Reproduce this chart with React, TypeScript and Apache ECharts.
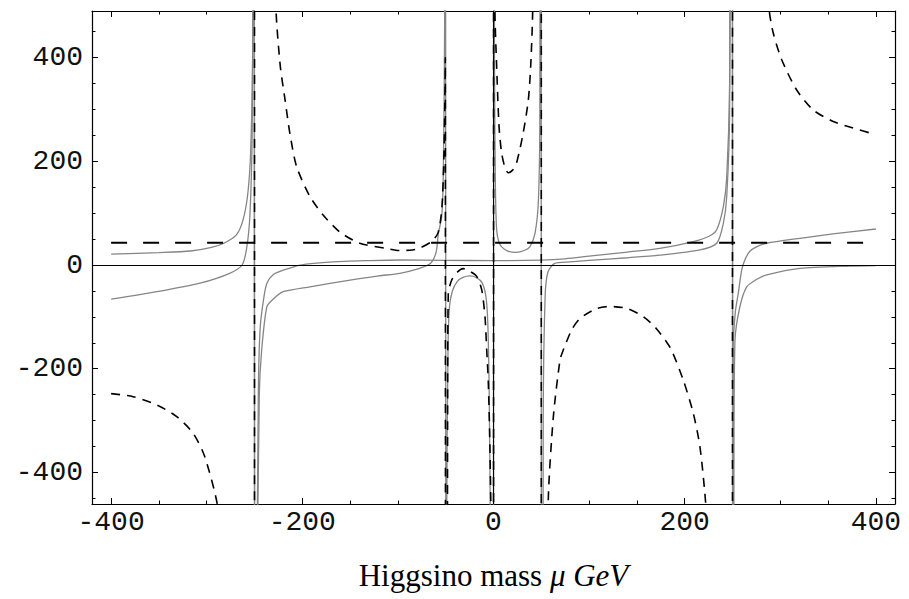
import React, { useEffect, useRef } from 'react';
import * as echarts from 'echarts';

// Axis ranges and tick values
const X_MIN = -420;
const X_MAX = 420;
const Y_MIN = -461;
const Y_MAX = 490;
const X_MAJOR = [-400, -200, 0, 200, 400];
const X_MINOR = [-350, -300, -250, -150, -100, -50, 50, 100, 150, 250, 300, 350];
const Y_MAJOR = [-400, -200, 0, 200, 400];
const Y_MINOR = [-450, -350, -300, -250, -150, -100, -50, 50, 100, 150, 250, 300, 350, 450];

// Short-dashed curve (with poles at -250, -50, 0, 50, 250)
const dashedCurve: [number, number][] = [
  [-400, -248], [-377, -254], [-352, -270], [-331, -293], [-314, -325], [-302, -370],
  [-289, -461], [-280, -600], [-270, -900], [-260, -1800], [-255, -4000], [-250.5, -20000],
  [-249.5, 20000], [-240, 2000], [-232, 800], [-227.5, 490], [-223, 383], [-218, 318],
  [-213, 254], [-206, 190], [-192, 132], [-178, 96], [-161, 64], [-140, 42], [-112, 32],
  [-98, 28], [-85, 29], [-77, 33], [-65, 45], [-58, 62], [-54, 110], [-52, 200], [-51, 300],
  [-50.4, 400],
  [-49.6, -20000], [-49, -2000], [-48, -300], [-47.3, -55], [-43.7, -29], [-38, -14],
  [-31.6, -7], [-25, -12], [-17.6, -22], [-12.3, -48], [-8.9, -100], [-7.1, -164],
  [-5.4, -228], [-3.7, -357], [-2, -600], [-0.5, -20000],
  [0.5, 20000], [1, 1000], [1.5, 490], [3.3, 383], [5.8, 267], [8.5, 216], [12, 188],
  [15.5, 178], [20, 183], [24, 196], [31, 254], [36.4, 318], [38.9, 383], [41, 490],
  [45, 1000], [49.5, 20000],
  [50.5, -20000], [55, -1000], [57.3, -454], [62.6, -293], [69.6, -183], [73, -164],
  [81.8, -125], [90.5, -103], [108, -84], [122, -80], [140, -84], [157, -100], [170, -122],
  [185, -160], [198.5, -222], [209, -286], [216, -351], [222, -461], [230, -700],
  [240, -1500], [249.5, -20000],
  [250.5, 20000], [260, 2000], [275, 800], [288.5, 490], [292.7, 447], [301.5, 396],
  [317, 338], [334.5, 299], [355.4, 277], [376.4, 264], [399, 252],
];

// Upper grey curve
const grayUpper: [number, number][] = [
  [-400, 21], [-350, 24], [-317, 27], [-295, 34], [-282, 42], [-269, 58], [-262, 87],
  [-257, 138], [-254, 220], [-252, 400], [-251, 800], [-250.5, 3000],
  [-249.5, -3000], [-248, -800], [-246, -250], [-244, -119], [-240, -60], [-237, -35],
  [-230, -18], [-220, -10], [-202, 0], [-168, 6], [-130, 8.5], [-98, 9.7], [-50, 9],
  [0, 8.5], [50, 9.5], [75, 12], [100, 17], [140, 25], [174, 32], [209, 45], [226, 56],
  [233.5, 68], [240.4, 112], [244, 170], [247, 350], [249, 1000], [249.5, 3000],
  [250.5, -3000], [250.8, -158], [253, -90], [256, -55], [259.6, -10], [263, 10],
  [268, 26], [275, 35], [285.8, 42], [320.6, 51.5], [355, 60], [400, 69.5],
];

// Lower grey curve
const grayLower: [number, number][] = [
  [-400, -66], [-352, -51.5], [-307, -35], [-276, -16], [-263, 0], [-258, 35],
  [-254.7, 100], [-252.5, 250], [-251, 800], [-250.5, 3000],
  [-249.5, -3000], [-248, -800], [-245, -250], [-242.5, -164], [-237, -80], [-230, -65],
  [-220, -51.5], [-192, -42], [-150, -29], [-120, -21], [-98, -16], [-80, -8], [-66, 3],
  [-60, 25], [-57.7, 61], [-54.2, 93], [-52.5, 180], [-51, 500], [-50.5, 3000],
  [-49.5, -3000], [-49, -500], [-47.5, -150], [-46, -80], [-43, -50], [-38, -32],
  [-32, -24], [-25, -21], [-18, -24], [-12, -34], [-8, -60], [-6, -110], [-4.5, -250],
  [-3, -600], [-0.5, -3000],
  [0.5, 3000], [1, 400], [2, 150], [3.3, 68], [5.5, 45], [8.5, 35], [15, 27], [24, 24.5],
  [32, 28], [38, 35], [43.4, 61], [47, 125], [48.5, 300], [49.5, 3000],
  [50.5, -3000], [52, -300], [54, -61], [57, -13], [64, 3], [80, 6], [100, 9], [140, 14],
  [174, 19], [216, 29], [233.5, 42], [240.4, 80], [244, 132], [247, 300], [249.5, 3000],
  [250.5, -3000], [251.5, -400], [252.6, -145], [257.8, -80], [264.9, -42], [275, -28],
  [285.8, -19], [320.6, -6.4], [373, -2], [400, -1],
];

// Long-dashed constant line
const flatX = [-400, 400];
const flatY = [43, 43];

const TICK_FONT = 'Liberation Mono';

function xAxisDef(position: 'top' | 'bottom', ticks: number[], len: number, withLabel: boolean, withLine: boolean, withName: boolean) {
  return {
    type: 'value',
    position,
    min: X_MIN,
    max: X_MAX,
    axisLine: { show: withLine, onZero: false, lineStyle: { color: '#000', width: 1.2 } },
    axisTick: { show: true, inside: true, length: len, customValues: ticks, lineStyle: { color: '#000', width: 1 } },
    axisLabel: withLabel
      ? { show: true, customValues: ticks, color: '#111', fontFamily: TICK_FONT, fontSize: 28, margin: 4 }
      : { show: false },
    splitLine: { show: false },
    ...(withName
      ? {
          name: '{n|Higgsino mass }{i|μ GeV}',
          nameLocation: 'middle',
          nameGap: 56,
          nameTextStyle: {
            rich: {
              n: { fontFamily: 'Liberation Serif', fontSize: 31, color: '#000' },
              i: { fontFamily: 'Liberation Serif', fontStyle: 'italic', fontSize: 31, color: '#000' },
            },
          },
        }
      : {}),
  };
}

function yAxisDef(position: 'left' | 'right', ticks: number[], len: number, withLabel: boolean, withLine: boolean) {
  return {
    type: 'value',
    position,
    min: Y_MIN,
    max: Y_MAX,
    axisLine: { show: withLine, onZero: false, lineStyle: { color: '#000', width: 1.2 } },
    axisTick: { show: true, inside: true, length: len, customValues: ticks, lineStyle: { color: '#000', width: 1 } },
    axisLabel: withLabel
      ? { show: true, customValues: ticks, color: '#111', fontFamily: TICK_FONT, fontSize: 28, margin: 9 }
      : { show: false },
    splitLine: { show: false },
  };
}

export default function App() {
  const ref = useRef<HTMLDivElement>(null);
  useEffect(() => {
    if (!ref.current) return;
    const chart = echarts.init(ref.current, undefined, { renderer: 'svg' });
    const flatData = flatX.map((x, i) => [x, flatY[i]]);
    const curve = { type: 'line', symbol: 'none', clip: true, smooth: 0.25 };
    chart.setOption({
      animation: false,
      backgroundColor: '#fff',
      grid: { left: 92, right: 14, top: 11, bottom: 95, containLabel: false },
      xAxis: [
        xAxisDef('bottom', X_MAJOR, 6, true, true, true),
        xAxisDef('bottom', X_MINOR, 3.5, false, false, false),
        xAxisDef('top', X_MAJOR, 6, false, true, false),
        xAxisDef('top', X_MINOR, 3.5, false, false, false),
      ],
      yAxis: [
        yAxisDef('left', Y_MAJOR, 6, true, true),
        yAxisDef('left', Y_MINOR, 3.5, false, false),
        yAxisDef('right', Y_MAJOR, 6, false, true),
        yAxisDef('right', Y_MINOR, 3.5, false, false),
      ],
      series: [
        {
          ...curve,
          name: 'upper',
          data: grayUpper,
          lineStyle: { color: '#858585', width: 1.3 },
          z: 2,
          markLine: {
            silent: true,
            symbol: 'none',
            label: { show: false },
            lineStyle: { color: '#000', width: 1.1, type: 'solid' },
            data: [{ yAxis: 0 }, { xAxis: 0 }],
          },
        },
        {
          ...curve,
          name: 'lower',
          data: grayLower,
          lineStyle: { color: '#858585', width: 1.3 },
          z: 2,
        },
        {
          ...curve,
          name: 'dashed',
          data: dashedCurve,
          lineStyle: { color: '#000', width: 1.6, type: [9, 7] },
          z: 3,
        },
        {
          type: 'line',
          name: 'flat',
          data: flatData,
          symbol: 'none',
          clip: true,
          lineStyle: { color: '#000', width: 2, type: [16, 16] },
          z: 3,
        },
      ],
    });
    return () => chart.dispose();
  }, []);
  return <div ref={ref} style={{ width: 909, height: 599, position: 'absolute', left: 0, top: 0 }} />;
}
